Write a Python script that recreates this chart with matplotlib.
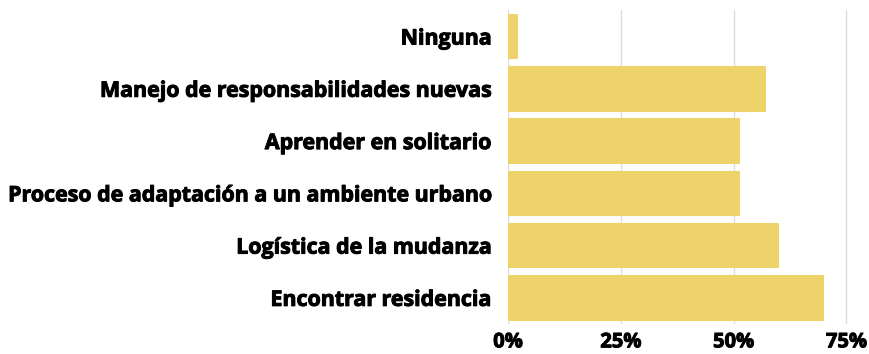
import matplotlib
matplotlib.use("Agg")
import matplotlib.pyplot as plt
import matplotlib.patheffects as pe
from matplotlib.ticker import FuncFormatter

categories = [
    "Ninguna",
    "Manejo de responsabilidades nuevas",
    "Aprender en solitario",
    "Proceso de adaptación a un ambiente urbano",
    "Logística de la mudanza",
    "Encontrar residencia",
]
values = [1.9, 56.9, 51.2, 51.2, 59.8, 69.8]
ticks = [0, 25, 50, 75]

bar_color = "#EDD36A"
font = "Open Sans"

fig = plt.figure(figsize=(8.69, 3.54), dpi=100)
ax = fig.add_axes([0.5846, 0.0847, 0.405, 0.8859])

ypos = list(range(len(categories)))
bars = ax.barh(ypos, values, height=0.83, color=bar_color,
               edgecolor=bar_color, linewidth=1.5, zorder=3)
for b in bars:
    b.set_joinstyle("round")

ax.set_ylim(len(categories) - 0.5, -0.5)
ax.set_xlim(0, 78)
ax.set_yticks(ypos)
ax.set_yticklabels(categories)
ax.set_xticks(ticks)
ax.xaxis.set_major_formatter(FuncFormatter(lambda v, p: f"{v:.0f}%"))

ax.grid(axis="x", color="#dddddd", linewidth=1, zorder=0)
ax.set_axisbelow(True)
for s in ax.spines.values():
    s.set_visible(False)
ax.tick_params(axis="both", length=0)
ax.tick_params(axis="y", pad=12)
ax.tick_params(axis="x", pad=6)

heavy = [pe.withStroke(linewidth=0.7, foreground="#000000")]
for lab in ax.get_yticklabels():
    lab.set_fontfamily(font)
    lab.set_fontweight("bold")
    lab.set_fontsize(15.4)
    lab.set_color("#000000")
    lab.set_path_effects(heavy)
for lab in ax.get_xticklabels():
    lab.set_fontfamily(font)
    lab.set_fontweight("bold")
    lab.set_fontsize(14.5)
    lab.set_color("#000000")
    lab.set_path_effects(heavy)

fig.savefig("out.png", dpi=100)
